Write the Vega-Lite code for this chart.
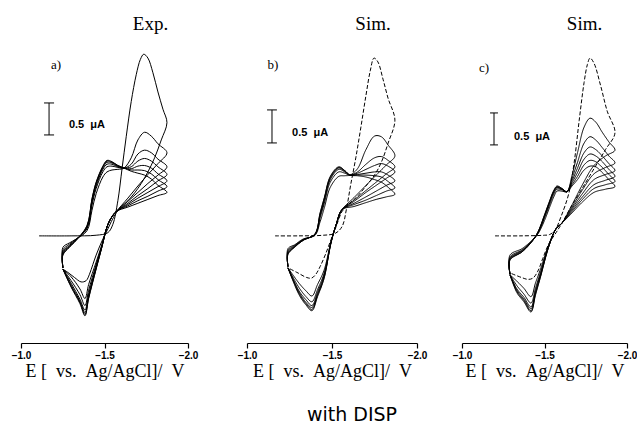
{
"$schema": "https://vega.github.io/schema/vega-lite/v6.json",
"background": "white",
"padding": {"left": 11, "top": 15, "right": 0, "bottom": 0},
"title": {"text": "with\u00a0DISP", "orient": "bottom", "anchor": "middle", "font": "DejaVu Sans", "fontSize": 19, "fontWeight": "normal", "color": "#000", "offset": 26, "dx": 28},
"config": {
 "view": {"stroke": null},
 "title": {"font": "Liberation Serif", "fontSize": 19, "fontWeight": "normal", "color": "#000", "anchor": "middle", "offset": 2},
 "axisX": {"tickCount": 2, "format": ".1f", "labelFlush": false, "tickSize": 5, "tickWidth": 1.2, "domainWidth": 1.2, "domainColor": "#000", "tickColor": "#000", "labelColor": "#000", "labelFont": "Liberation Sans", "labelFontSize": 10, "labelFontWeight": "bold", "labelPadding": 2, "titleFont": "Liberation Serif", "titleFontSize": 18, "titleFontWeight": "normal", "titleColor": "#000", "titlePadding": 2, "grid": false}
},
"datasets": {
"a": [
{"c":1,"E":-1.108,"i":0},{"c":1,"E":-1.3,"i":0},{"c":1,"E":-1.45,"i":0.01},{"c":1,"E":-1.52,"i":0.05},{"c":1,"E":-1.55,"i":0.18},{"c":1,"E":-1.58,"i":0.55},{"c":1,"E":-1.605,"i":1.05},{"c":1,"E":-1.63,"i":1.55},{"c":1,"E":-1.66,"i":2.1},{"c":1,"E":-1.69,"i":2.52},{"c":1,"E":-1.715,"i":2.76},{"c":1,"E":-1.735,"i":2.84},{"c":1,"E":-1.76,"i":2.78},{"c":1,"E":-1.79,"i":2.55},{"c":1,"E":-1.82,"i":2.25},{"c":1,"E":-1.85,"i":1.98},{"c":1,"E":-1.874,"i":1.77},
{"c":1,"E":-1.84,"i":1.5},{"c":1,"E":-1.8,"i":1.22},{"c":1,"E":-1.76,"i":1.0},{"c":1,"E":-1.72,"i":0.82},{"c":1,"E":-1.68,"i":0.67},{"c":1,"E":-1.64,"i":0.55},{"c":1,"E":-1.6,"i":0.45},{"c":1,"E":-1.57,"i":0.36},{"c":1,"E":-1.54,"i":0.22},{"c":1,"E":-1.515,"i":0.08},{"c":1,"E":-1.485,"i":-0.08},{"c":1,"E":-1.45,"i":-0.3},{"c":1,"E":-1.43,"i":-0.45},{"c":1,"E":-1.41,"i":-0.6},{"c":1,"E":-1.39,"i":-0.7},{"c":1,"E":-1.36,"i":-0.72},{"c":1,"E":-1.32,"i":-0.65},{"c":1,"E":-1.28,"i":-0.57},{"c":1,"E":-1.251,"i":-0.52},
{"c":2,"E":-1.251,"i":-0.5},{"c":2,"E":-1.251,"i":-0.18},{"c":2,"E":-1.29,"i":-0.11},{"c":2,"E":-1.33,"i":-0.05},{"c":2,"E":-1.395,"i":0.08},{"c":2,"E":-1.425,"i":0.4},{"c":2,"E":-1.45,"i":0.66},{"c":2,"E":-1.49,"i":0.92},{"c":2,"E":-1.515,"i":1.0},{"c":2,"E":-1.545,"i":1.03},{"c":2,"E":-1.58,"i":1.04},{"c":2,"E":-1.617,"i":1.06},{"c":2,"E":-1.66,"i":1.22},{"c":2,"E":-1.7,"i":1.5},{"c":2,"E":-1.74,"i":1.62},{"c":2,"E":-1.78,"i":1.56},{"c":2,"E":-1.82,"i":1.44},{"c":2,"E":-1.874,"i":1.3},
{"c":2,"E":-1.82,"i":1.13},{"c":2,"E":-1.76,"i":0.96},{"c":2,"E":-1.7,"i":0.78},{"c":2,"E":-1.64,"i":0.59},{"c":2,"E":-1.57,"i":0.38},{"c":2,"E":-1.54,"i":0.28},{"c":2,"E":-1.515,"i":0.14},{"c":2,"E":-1.485,"i":-0.13},{"c":2,"E":-1.45,"i":-0.41},{"c":2,"E":-1.405,"i":-0.76},{"c":2,"E":-1.383,"i":-0.98},{"c":2,"E":-1.353,"i":-0.83},{"c":2,"E":-1.3,"i":-0.64},{"c":2,"E":-1.251,"i":-0.52},
{"c":3,"E":-1.251,"i":-0.5},{"c":3,"E":-1.251,"i":-0.22},{"c":3,"E":-1.29,"i":-0.13},{"c":3,"E":-1.33,"i":-0.05},{"c":3,"E":-1.395,"i":0.11},{"c":3,"E":-1.425,"i":0.48},{"c":3,"E":-1.45,"i":0.74},{"c":3,"E":-1.49,"i":1.0},{"c":3,"E":-1.515,"i":1.08},{"c":3,"E":-1.545,"i":1.09},{"c":3,"E":-1.58,"i":1.07},{"c":3,"E":-1.617,"i":1.06},{"c":3,"E":-1.66,"i":1.12},{"c":3,"E":-1.7,"i":1.28},{"c":3,"E":-1.74,"i":1.34},{"c":3,"E":-1.78,"i":1.3},{"c":3,"E":-1.82,"i":1.2},{"c":3,"E":-1.874,"i":1.08},
{"c":3,"E":-1.82,"i":0.95},{"c":3,"E":-1.76,"i":0.82},{"c":3,"E":-1.7,"i":0.68},{"c":3,"E":-1.64,"i":0.54},{"c":3,"E":-1.57,"i":0.38},{"c":3,"E":-1.54,"i":0.28},{"c":3,"E":-1.515,"i":0.14},{"c":3,"E":-1.485,"i":-0.15},{"c":3,"E":-1.45,"i":-0.45},{"c":3,"E":-1.405,"i":-0.85},{"c":3,"E":-1.383,"i":-1.09},{"c":3,"E":-1.353,"i":-0.92},{"c":3,"E":-1.3,"i":-0.7},{"c":3,"E":-1.251,"i":-0.52},
{"c":4,"E":-1.251,"i":-0.5},{"c":4,"E":-1.251,"i":-0.25},{"c":4,"E":-1.29,"i":-0.15},{"c":4,"E":-1.33,"i":-0.06},{"c":4,"E":-1.395,"i":0.13},{"c":4,"E":-1.425,"i":0.52},{"c":4,"E":-1.45,"i":0.78},{"c":4,"E":-1.49,"i":1.04},{"c":4,"E":-1.515,"i":1.12},{"c":4,"E":-1.545,"i":1.12},{"c":4,"E":-1.58,"i":1.08},{"c":4,"E":-1.617,"i":1.06},{"c":4,"E":-1.66,"i":1.08},{"c":4,"E":-1.7,"i":1.17},{"c":4,"E":-1.74,"i":1.21},{"c":4,"E":-1.78,"i":1.17},{"c":4,"E":-1.82,"i":1.08},{"c":4,"E":-1.874,"i":0.96},
{"c":4,"E":-1.82,"i":0.86},{"c":4,"E":-1.76,"i":0.74},{"c":4,"E":-1.7,"i":0.63},{"c":4,"E":-1.64,"i":0.51},{"c":4,"E":-1.57,"i":0.38},{"c":4,"E":-1.54,"i":0.28},{"c":4,"E":-1.515,"i":0.14},{"c":4,"E":-1.485,"i":-0.16},{"c":4,"E":-1.45,"i":-0.48},{"c":4,"E":-1.405,"i":-0.91},{"c":4,"E":-1.383,"i":-1.16},{"c":4,"E":-1.353,"i":-0.99},{"c":4,"E":-1.3,"i":-0.74},{"c":4,"E":-1.251,"i":-0.52},
{"c":5,"E":-1.251,"i":-0.5},{"c":5,"E":-1.251,"i":-0.27},{"c":5,"E":-1.29,"i":-0.16},{"c":5,"E":-1.33,"i":-0.06},{"c":5,"E":-1.395,"i":0.14},{"c":5,"E":-1.425,"i":0.55},{"c":5,"E":-1.45,"i":0.81},{"c":5,"E":-1.49,"i":1.06},{"c":5,"E":-1.515,"i":1.15},{"c":5,"E":-1.545,"i":1.14},{"c":5,"E":-1.58,"i":1.09},{"c":5,"E":-1.617,"i":1.06},{"c":5,"E":-1.66,"i":1.05},{"c":5,"E":-1.7,"i":1.09},{"c":5,"E":-1.74,"i":1.1},{"c":5,"E":-1.78,"i":1.06},{"c":5,"E":-1.82,"i":0.97},{"c":5,"E":-1.874,"i":0.86},
{"c":5,"E":-1.82,"i":0.77},{"c":5,"E":-1.76,"i":0.68},{"c":5,"E":-1.7,"i":0.59},{"c":5,"E":-1.64,"i":0.49},{"c":5,"E":-1.57,"i":0.38},{"c":5,"E":-1.54,"i":0.28},{"c":5,"E":-1.515,"i":0.14},{"c":5,"E":-1.485,"i":-0.16},{"c":5,"E":-1.45,"i":-0.5},{"c":5,"E":-1.405,"i":-0.94},{"c":5,"E":-1.383,"i":-1.2},{"c":5,"E":-1.353,"i":-1.02},{"c":5,"E":-1.3,"i":-0.77},{"c":5,"E":-1.251,"i":-0.52},
{"c":6,"E":-1.251,"i":-0.5},{"c":6,"E":-1.251,"i":-0.29},{"c":6,"E":-1.29,"i":-0.17},{"c":6,"E":-1.33,"i":-0.07},{"c":6,"E":-1.395,"i":0.15},{"c":6,"E":-1.425,"i":0.57},{"c":6,"E":-1.45,"i":0.83},{"c":6,"E":-1.49,"i":1.08},{"c":6,"E":-1.515,"i":1.17},{"c":6,"E":-1.545,"i":1.15},{"c":6,"E":-1.58,"i":1.1},{"c":6,"E":-1.617,"i":1.06},{"c":6,"E":-1.66,"i":1.03},{"c":6,"E":-1.7,"i":1.03},{"c":6,"E":-1.74,"i":1.02},{"c":6,"E":-1.78,"i":0.97},{"c":6,"E":-1.82,"i":0.88},{"c":6,"E":-1.874,"i":0.77},
{"c":6,"E":-1.82,"i":0.7},{"c":6,"E":-1.76,"i":0.62},{"c":6,"E":-1.7,"i":0.55},{"c":6,"E":-1.64,"i":0.47},{"c":6,"E":-1.57,"i":0.38},{"c":6,"E":-1.54,"i":0.28},{"c":6,"E":-1.515,"i":0.14},{"c":6,"E":-1.485,"i":-0.17},{"c":6,"E":-1.45,"i":-0.51},{"c":6,"E":-1.405,"i":-0.97},{"c":6,"E":-1.383,"i":-1.23},{"c":6,"E":-1.353,"i":-1.04},{"c":6,"E":-1.3,"i":-0.79},{"c":6,"E":-1.251,"i":-0.52},
{"c":7,"E":-1.251,"i":-0.5},{"c":7,"E":-1.251,"i":-0.3},{"c":7,"E":-1.29,"i":-0.18},{"c":7,"E":-1.33,"i":-0.07},{"c":7,"E":-1.395,"i":0.16},{"c":7,"E":-1.425,"i":0.58},{"c":7,"E":-1.45,"i":0.84},{"c":7,"E":-1.49,"i":1.09},{"c":7,"E":-1.515,"i":1.18},{"c":7,"E":-1.545,"i":1.16},{"c":7,"E":-1.58,"i":1.1},{"c":7,"E":-1.617,"i":1.06},{"c":7,"E":-1.66,"i":1.01},{"c":7,"E":-1.7,"i":0.98},{"c":7,"E":-1.74,"i":0.95},{"c":7,"E":-1.78,"i":0.89},{"c":7,"E":-1.82,"i":0.79},{"c":7,"E":-1.874,"i":0.68},
{"c":7,"E":-1.82,"i":0.63},{"c":7,"E":-1.76,"i":0.57},{"c":7,"E":-1.7,"i":0.51},{"c":7,"E":-1.64,"i":0.45},{"c":7,"E":-1.57,"i":0.38},{"c":7,"E":-1.54,"i":0.28},{"c":7,"E":-1.515,"i":0.14},{"c":7,"E":-1.485,"i":-0.17},{"c":7,"E":-1.45,"i":-0.52},{"c":7,"E":-1.405,"i":-0.98},{"c":7,"E":-1.383,"i":-1.25},{"c":7,"E":-1.353,"i":-1.06},{"c":7,"E":-1.3,"i":-0.8},{"c":7,"E":-1.251,"i":-0.52}
],
"b": [
{"c":1,"E":-1.165,"i":0},{"c":1,"E":-1.3,"i":0},{"c":1,"E":-1.45,"i":0.01},{"c":1,"E":-1.52,"i":0.04},{"c":1,"E":-1.56,"i":0.15},{"c":1,"E":-1.585,"i":0.42},{"c":1,"E":-1.61,"i":0.8},{"c":1,"E":-1.64,"i":1.22},{"c":1,"E":-1.67,"i":1.7},{"c":1,"E":-1.7,"i":2.2},{"c":1,"E":-1.725,"i":2.58},{"c":1,"E":-1.747,"i":2.78},{"c":1,"E":-1.77,"i":2.72},{"c":1,"E":-1.8,"i":2.45},{"c":1,"E":-1.83,"i":2.15},{"c":1,"E":-1.87,"i":1.81},
{"c":1,"E":-1.83,"i":1.45},{"c":1,"E":-1.79,"i":1.15},{"c":1,"E":-1.75,"i":0.95},{"c":1,"E":-1.7,"i":0.78},{"c":1,"E":-1.65,"i":0.62},{"c":1,"E":-1.6,"i":0.5},{"c":1,"E":-1.559,"i":0.38},{"c":1,"E":-1.525,"i":0.15},{"c":1,"E":-1.494,"i":-0.06},{"c":1,"E":-1.46,"i":-0.3},{"c":1,"E":-1.43,"i":-0.48},{"c":1,"E":-1.405,"i":-0.6},{"c":1,"E":-1.38,"i":-0.66},{"c":1,"E":-1.35,"i":-0.65},{"c":1,"E":-1.3,"i":-0.58},{"c":1,"E":-1.241,"i":-0.5},
{"c":2,"E":-1.241,"i":-0.48},{"c":2,"E":-1.241,"i":-0.2},{"c":2,"E":-1.28,"i":-0.14},{"c":2,"E":-1.33,"i":-0.05},{"c":2,"E":-1.4,"i":0.01},{"c":2,"E":-1.43,"i":0.22},{"c":2,"E":-1.455,"i":0.44},{"c":2,"E":-1.49,"i":0.76},{"c":2,"E":-1.54,"i":0.93},{"c":2,"E":-1.575,"i":0.94},{"c":2,"E":-1.606,"i":0.95},{"c":2,"E":-1.65,"i":1.05},{"c":2,"E":-1.7,"i":1.35},{"c":2,"E":-1.75,"i":1.56},{"c":2,"E":-1.79,"i":1.55},{"c":2,"E":-1.83,"i":1.42},{"c":2,"E":-1.87,"i":1.25},
{"c":2,"E":-1.82,"i":1.11},{"c":2,"E":-1.76,"i":0.95},{"c":2,"E":-1.7,"i":0.79},{"c":2,"E":-1.63,"i":0.6},{"c":2,"E":-1.559,"i":0.41},{"c":2,"E":-1.525,"i":0.18},{"c":2,"E":-1.494,"i":-0.09},{"c":2,"E":-1.453,"i":-0.54},{"c":2,"E":-1.415,"i":-0.76},{"c":2,"E":-1.382,"i":-0.94},{"c":2,"E":-1.347,"i":-0.86},{"c":2,"E":-1.306,"i":-0.74},{"c":2,"E":-1.241,"i":-0.5},
{"c":3,"E":-1.241,"i":-0.48},{"c":3,"E":-1.241,"i":-0.23},{"c":3,"E":-1.28,"i":-0.15},{"c":3,"E":-1.33,"i":-0.06},{"c":3,"E":-1.4,"i":0.02},{"c":3,"E":-1.43,"i":0.28},{"c":3,"E":-1.455,"i":0.51},{"c":3,"E":-1.49,"i":0.84},{"c":3,"E":-1.54,"i":1.0},{"c":3,"E":-1.575,"i":0.98},{"c":3,"E":-1.606,"i":0.95},{"c":3,"E":-1.65,"i":1.0},{"c":3,"E":-1.7,"i":1.12},{"c":3,"E":-1.75,"i":1.22},{"c":3,"E":-1.79,"i":1.24},{"c":3,"E":-1.83,"i":1.18},{"c":3,"E":-1.87,"i":1.08},
{"c":3,"E":-1.82,"i":0.97},{"c":3,"E":-1.76,"i":0.84},{"c":3,"E":-1.7,"i":0.71},{"c":3,"E":-1.63,"i":0.56},{"c":3,"E":-1.559,"i":0.41},{"c":3,"E":-1.525,"i":0.18},{"c":3,"E":-1.494,"i":-0.1},{"c":3,"E":-1.453,"i":-0.59},{"c":3,"E":-1.415,"i":-0.84},{"c":3,"E":-1.382,"i":-1.03},{"c":3,"E":-1.347,"i":-0.95},{"c":3,"E":-1.306,"i":-0.81},{"c":3,"E":-1.241,"i":-0.5},
{"c":4,"E":-1.241,"i":-0.48},{"c":4,"E":-1.241,"i":-0.25},{"c":4,"E":-1.28,"i":-0.16},{"c":4,"E":-1.33,"i":-0.06},{"c":4,"E":-1.4,"i":0.02},{"c":4,"E":-1.43,"i":0.31},{"c":4,"E":-1.455,"i":0.55},{"c":4,"E":-1.49,"i":0.88},{"c":4,"E":-1.54,"i":1.04},{"c":4,"E":-1.575,"i":1.0},{"c":4,"E":-1.606,"i":0.95},{"c":4,"E":-1.65,"i":0.98},{"c":4,"E":-1.7,"i":1.04},{"c":4,"E":-1.75,"i":1.1},{"c":4,"E":-1.79,"i":1.13},{"c":4,"E":-1.83,"i":1.09},{"c":4,"E":-1.87,"i":1.0},
{"c":4,"E":-1.82,"i":0.9},{"c":4,"E":-1.76,"i":0.79},{"c":4,"E":-1.7,"i":0.68},{"c":4,"E":-1.63,"i":0.54},{"c":4,"E":-1.559,"i":0.41},{"c":4,"E":-1.525,"i":0.18},{"c":4,"E":-1.494,"i":-0.1},{"c":4,"E":-1.453,"i":-0.62},{"c":4,"E":-1.415,"i":-0.88},{"c":4,"E":-1.382,"i":-1.09},{"c":4,"E":-1.347,"i":-1.0},{"c":4,"E":-1.306,"i":-0.86},{"c":4,"E":-1.241,"i":-0.5},
{"c":5,"E":-1.241,"i":-0.48},{"c":5,"E":-1.241,"i":-0.27},{"c":5,"E":-1.28,"i":-0.17},{"c":5,"E":-1.33,"i":-0.07},{"c":5,"E":-1.4,"i":0.03},{"c":5,"E":-1.43,"i":0.33},{"c":5,"E":-1.455,"i":0.57},{"c":5,"E":-1.49,"i":0.9},{"c":5,"E":-1.54,"i":1.06},{"c":5,"E":-1.575,"i":1.01},{"c":5,"E":-1.606,"i":0.95},{"c":5,"E":-1.65,"i":0.96},{"c":5,"E":-1.7,"i":0.98},{"c":5,"E":-1.75,"i":1.0},{"c":5,"E":-1.79,"i":1.0},{"c":5,"E":-1.83,"i":0.95},{"c":5,"E":-1.87,"i":0.86},
{"c":5,"E":-1.82,"i":0.79},{"c":5,"E":-1.76,"i":0.7},{"c":5,"E":-1.7,"i":0.61},{"c":5,"E":-1.63,"i":0.51},{"c":5,"E":-1.559,"i":0.41},{"c":5,"E":-1.525,"i":0.18},{"c":5,"E":-1.494,"i":-0.11},{"c":5,"E":-1.453,"i":-0.64},{"c":5,"E":-1.415,"i":-0.91},{"c":5,"E":-1.382,"i":-1.12},{"c":5,"E":-1.347,"i":-1.04},{"c":5,"E":-1.306,"i":-0.88},{"c":5,"E":-1.241,"i":-0.5},
{"c":6,"E":-1.241,"i":-0.48},{"c":6,"E":-1.241,"i":-0.28},{"c":6,"E":-1.28,"i":-0.17},{"c":6,"E":-1.33,"i":-0.07},{"c":6,"E":-1.4,"i":0.03},{"c":6,"E":-1.43,"i":0.35},{"c":6,"E":-1.455,"i":0.59},{"c":6,"E":-1.49,"i":0.92},{"c":6,"E":-1.54,"i":1.07},{"c":6,"E":-1.575,"i":1.02},{"c":6,"E":-1.606,"i":0.95},{"c":6,"E":-1.65,"i":0.95},{"c":6,"E":-1.7,"i":0.95},{"c":6,"E":-1.75,"i":0.94},{"c":6,"E":-1.79,"i":0.92},{"c":6,"E":-1.83,"i":0.85},{"c":6,"E":-1.87,"i":0.75},
{"c":6,"E":-1.82,"i":0.7},{"c":6,"E":-1.76,"i":0.63},{"c":6,"E":-1.7,"i":0.56},{"c":6,"E":-1.63,"i":0.49},{"c":6,"E":-1.559,"i":0.41},{"c":6,"E":-1.525,"i":0.18},{"c":6,"E":-1.494,"i":-0.11},{"c":6,"E":-1.453,"i":-0.66},{"c":6,"E":-1.415,"i":-0.93},{"c":6,"E":-1.382,"i":-1.15},{"c":6,"E":-1.347,"i":-1.06},{"c":6,"E":-1.306,"i":-0.9},{"c":6,"E":-1.241,"i":-0.5},
{"c":7,"E":-1.241,"i":-0.48},{"c":7,"E":-1.241,"i":-0.29},{"c":7,"E":-1.28,"i":-0.18},{"c":7,"E":-1.33,"i":-0.07},{"c":7,"E":-1.4,"i":0.03},{"c":7,"E":-1.43,"i":0.36},{"c":7,"E":-1.455,"i":0.6},{"c":7,"E":-1.49,"i":0.93},{"c":7,"E":-1.54,"i":1.08},{"c":7,"E":-1.575,"i":1.02},{"c":7,"E":-1.606,"i":0.95},{"c":7,"E":-1.65,"i":0.94},{"c":7,"E":-1.7,"i":0.92},{"c":7,"E":-1.75,"i":0.88},{"c":7,"E":-1.79,"i":0.84},{"c":7,"E":-1.83,"i":0.76},{"c":7,"E":-1.87,"i":0.65},
{"c":7,"E":-1.82,"i":0.61},{"c":7,"E":-1.76,"i":0.57},{"c":7,"E":-1.7,"i":0.52},{"c":7,"E":-1.63,"i":0.46},{"c":7,"E":-1.559,"i":0.41},{"c":7,"E":-1.525,"i":0.18},{"c":7,"E":-1.494,"i":-0.11},{"c":7,"E":-1.453,"i":-0.67},{"c":7,"E":-1.415,"i":-0.95},{"c":7,"E":-1.382,"i":-1.17},{"c":7,"E":-1.347,"i":-1.08},{"c":7,"E":-1.306,"i":-0.92},{"c":7,"E":-1.241,"i":-0.5}
],
"c": [
{"c":1,"E":-1.2,"i":0},{"c":1,"E":-1.35,"i":0},{"c":1,"E":-1.5,"i":0.01},{"c":1,"E":-1.53,"i":0.02},{"c":1,"E":-1.564,"i":0.09},{"c":1,"E":-1.6,"i":0.3},{"c":1,"E":-1.648,"i":0.67},{"c":1,"E":-1.68,"i":1.15},{"c":1,"E":-1.71,"i":1.8},{"c":1,"E":-1.74,"i":2.4},{"c":1,"E":-1.76,"i":2.68},{"c":1,"E":-1.776,"i":2.78},{"c":1,"E":-1.8,"i":2.7},{"c":1,"E":-1.84,"i":2.35},{"c":1,"E":-1.88,"i":1.95},{"c":1,"E":-1.927,"i":1.61},
{"c":1,"E":-1.87,"i":1.35},{"c":1,"E":-1.8,"i":1.05},{"c":1,"E":-1.73,"i":0.75},{"c":1,"E":-1.66,"i":0.45},{"c":1,"E":-1.606,"i":0.2},{"c":1,"E":-1.57,"i":0.05},{"c":1,"E":-1.527,"i":-0.12},{"c":1,"E":-1.49,"i":-0.35},{"c":1,"E":-1.46,"i":-0.55},{"c":1,"E":-1.43,"i":-0.66},{"c":1,"E":-1.4,"i":-0.68},{"c":1,"E":-1.36,"i":-0.65},{"c":1,"E":-1.291,"i":-0.58},
{"c":2,"E":-1.291,"i":-0.6},{"c":2,"E":-1.291,"i":-0.3},{"c":2,"E":-1.364,"i":-0.2},{"c":2,"E":-1.42,"i":-0.08},{"c":2,"E":-1.46,"i":0.03},{"c":2,"E":-1.5,"i":0.24},{"c":2,"E":-1.527,"i":0.42},{"c":2,"E":-1.558,"i":0.62},{"c":2,"E":-1.576,"i":0.7},{"c":2,"E":-1.606,"i":0.7},{"c":2,"E":-1.636,"i":0.69},{"c":2,"E":-1.667,"i":0.95},{"c":2,"E":-1.7,"i":1.3},{"c":2,"E":-1.74,"i":1.7},{"c":2,"E":-1.776,"i":1.84},{"c":2,"E":-1.81,"i":1.78},{"c":2,"E":-1.85,"i":1.62},{"c":2,"E":-1.89,"i":1.47},{"c":2,"E":-1.927,"i":1.34},
{"c":2,"E":-1.87,"i":1.25},{"c":2,"E":-1.8,"i":1.1},{"c":2,"E":-1.73,"i":0.8},{"c":2,"E":-1.66,"i":0.45},{"c":2,"E":-1.606,"i":0.2},{"c":2,"E":-1.57,"i":0.11},{"c":2,"E":-1.527,"i":-0.13},{"c":2,"E":-1.473,"i":-0.54},{"c":2,"E":-1.445,"i":-0.74},{"c":2,"E":-1.418,"i":-0.95},{"c":2,"E":-1.375,"i":-0.82},{"c":2,"E":-1.333,"i":-0.71},{"c":2,"E":-1.291,"i":-0.61},
{"c":3,"E":-1.291,"i":-0.6},{"c":3,"E":-1.291,"i":-0.33},{"c":3,"E":-1.364,"i":-0.22},{"c":3,"E":-1.42,"i":-0.09},{"c":3,"E":-1.46,"i":0.04},{"c":3,"E":-1.5,"i":0.28},{"c":3,"E":-1.527,"i":0.46},{"c":3,"E":-1.558,"i":0.66},{"c":3,"E":-1.576,"i":0.73},{"c":3,"E":-1.606,"i":0.72},{"c":3,"E":-1.636,"i":0.69},{"c":3,"E":-1.667,"i":0.9},{"c":3,"E":-1.7,"i":1.15},{"c":3,"E":-1.74,"i":1.45},{"c":3,"E":-1.776,"i":1.55},{"c":3,"E":-1.81,"i":1.5},{"c":3,"E":-1.85,"i":1.38},{"c":3,"E":-1.89,"i":1.25},{"c":3,"E":-1.927,"i":1.14},
{"c":3,"E":-1.87,"i":1.07},{"c":3,"E":-1.8,"i":0.97},{"c":3,"E":-1.73,"i":0.72},{"c":3,"E":-1.66,"i":0.42},{"c":3,"E":-1.606,"i":0.2},{"c":3,"E":-1.57,"i":0.11},{"c":3,"E":-1.527,"i":-0.14},{"c":3,"E":-1.473,"i":-0.59},{"c":3,"E":-1.445,"i":-0.82},{"c":3,"E":-1.418,"i":-1.05},{"c":3,"E":-1.375,"i":-0.91},{"c":3,"E":-1.333,"i":-0.78},{"c":3,"E":-1.291,"i":-0.61},
{"c":4,"E":-1.291,"i":-0.6},{"c":4,"E":-1.291,"i":-0.35},{"c":4,"E":-1.364,"i":-0.23},{"c":4,"E":-1.42,"i":-0.09},{"c":4,"E":-1.46,"i":0.05},{"c":4,"E":-1.5,"i":0.3},{"c":4,"E":-1.527,"i":0.49},{"c":4,"E":-1.558,"i":0.69},{"c":4,"E":-1.576,"i":0.75},{"c":4,"E":-1.606,"i":0.73},{"c":4,"E":-1.636,"i":0.69},{"c":4,"E":-1.667,"i":0.86},{"c":4,"E":-1.7,"i":1.06},{"c":4,"E":-1.74,"i":1.3},{"c":4,"E":-1.776,"i":1.39},{"c":4,"E":-1.81,"i":1.35},{"c":4,"E":-1.85,"i":1.25},{"c":4,"E":-1.89,"i":1.13},{"c":4,"E":-1.927,"i":1.02},
{"c":4,"E":-1.87,"i":0.96},{"c":4,"E":-1.8,"i":0.88},{"c":4,"E":-1.73,"i":0.66},{"c":4,"E":-1.66,"i":0.4},{"c":4,"E":-1.606,"i":0.2},{"c":4,"E":-1.57,"i":0.11},{"c":4,"E":-1.527,"i":-0.15},{"c":4,"E":-1.473,"i":-0.62},{"c":4,"E":-1.445,"i":-0.86},{"c":4,"E":-1.418,"i":-1.11},{"c":4,"E":-1.375,"i":-0.96},{"c":4,"E":-1.333,"i":-0.83},{"c":4,"E":-1.291,"i":-0.61},
{"c":5,"E":-1.291,"i":-0.6},{"c":5,"E":-1.291,"i":-0.36},{"c":5,"E":-1.364,"i":-0.24},{"c":5,"E":-1.42,"i":-0.1},{"c":5,"E":-1.46,"i":0.05},{"c":5,"E":-1.5,"i":0.31},{"c":5,"E":-1.527,"i":0.5},{"c":5,"E":-1.558,"i":0.7},{"c":5,"E":-1.576,"i":0.76},{"c":5,"E":-1.606,"i":0.73},{"c":5,"E":-1.636,"i":0.69},{"c":5,"E":-1.667,"i":0.83},{"c":5,"E":-1.7,"i":0.99},{"c":5,"E":-1.74,"i":1.2},{"c":5,"E":-1.776,"i":1.28},{"c":5,"E":-1.81,"i":1.25},{"c":5,"E":-1.85,"i":1.16},{"c":5,"E":-1.89,"i":1.04},{"c":5,"E":-1.927,"i":0.93},
{"c":5,"E":-1.87,"i":0.87},{"c":5,"E":-1.8,"i":0.8},{"c":5,"E":-1.73,"i":0.61},{"c":5,"E":-1.66,"i":0.38},{"c":5,"E":-1.606,"i":0.2},{"c":5,"E":-1.57,"i":0.11},{"c":5,"E":-1.527,"i":-0.15},{"c":5,"E":-1.473,"i":-0.64},{"c":5,"E":-1.445,"i":-0.89},{"c":5,"E":-1.418,"i":-1.14},{"c":5,"E":-1.375,"i":-0.99},{"c":5,"E":-1.333,"i":-0.85},{"c":5,"E":-1.291,"i":-0.61},
{"c":6,"E":-1.291,"i":-0.6},{"c":6,"E":-1.291,"i":-0.37},{"c":6,"E":-1.364,"i":-0.25},{"c":6,"E":-1.42,"i":-0.1},{"c":6,"E":-1.46,"i":0.06},{"c":6,"E":-1.5,"i":0.32},{"c":6,"E":-1.527,"i":0.51},{"c":6,"E":-1.558,"i":0.71},{"c":6,"E":-1.576,"i":0.77},{"c":6,"E":-1.606,"i":0.74},{"c":6,"E":-1.636,"i":0.69},{"c":6,"E":-1.667,"i":0.8},{"c":6,"E":-1.7,"i":0.93},{"c":6,"E":-1.74,"i":1.11},{"c":6,"E":-1.776,"i":1.18},{"c":6,"E":-1.81,"i":1.16},{"c":6,"E":-1.85,"i":1.07},{"c":6,"E":-1.89,"i":0.96},{"c":6,"E":-1.927,"i":0.85},
{"c":6,"E":-1.87,"i":0.8},{"c":6,"E":-1.8,"i":0.74},{"c":6,"E":-1.73,"i":0.57},{"c":6,"E":-1.66,"i":0.36},{"c":6,"E":-1.606,"i":0.2},{"c":6,"E":-1.57,"i":0.11},{"c":6,"E":-1.527,"i":-0.16},{"c":6,"E":-1.473,"i":-0.66},{"c":6,"E":-1.445,"i":-0.91},{"c":6,"E":-1.418,"i":-1.17},{"c":6,"E":-1.375,"i":-1.01},{"c":6,"E":-1.333,"i":-0.87},{"c":6,"E":-1.291,"i":-0.61},
{"c":7,"E":-1.291,"i":-0.6},{"c":7,"E":-1.291,"i":-0.38},{"c":7,"E":-1.364,"i":-0.25},{"c":7,"E":-1.42,"i":-0.1},{"c":7,"E":-1.46,"i":0.06},{"c":7,"E":-1.5,"i":0.33},{"c":7,"E":-1.527,"i":0.52},{"c":7,"E":-1.558,"i":0.72},{"c":7,"E":-1.576,"i":0.78},{"c":7,"E":-1.606,"i":0.74},{"c":7,"E":-1.636,"i":0.69},{"c":7,"E":-1.667,"i":0.78},{"c":7,"E":-1.7,"i":0.88},{"c":7,"E":-1.74,"i":1.03},{"c":7,"E":-1.776,"i":1.09},{"c":7,"E":-1.81,"i":1.08},{"c":7,"E":-1.85,"i":0.99},{"c":7,"E":-1.89,"i":0.88},{"c":7,"E":-1.927,"i":0.77},
{"c":7,"E":-1.87,"i":0.73},{"c":7,"E":-1.8,"i":0.68},{"c":7,"E":-1.73,"i":0.53},{"c":7,"E":-1.66,"i":0.34},{"c":7,"E":-1.606,"i":0.2},{"c":7,"E":-1.57,"i":0.11},{"c":7,"E":-1.527,"i":-0.16},{"c":7,"E":-1.473,"i":-0.67},{"c":7,"E":-1.445,"i":-0.93},{"c":7,"E":-1.418,"i":-1.19},{"c":7,"E":-1.375,"i":-1.03},{"c":7,"E":-1.333,"i":-0.89},{"c":7,"E":-1.291,"i":-0.61}
]
},
"spacing": 59,
"bounds": "flush",
"hconcat": [
{
 "width": 167, "height": 307,
 "title": {"text": "Exp.", "dx": 46},
 "layer": [
  {"data": {"name": "a"}, "mark": {"type": "line", "interpolate": "catmull-rom", "strokeWidth": 1, "color": "#000"},
   "encoding": {"x": {"field": "E", "type": "quantitative", "scale": {"domain": [-2, -1], "reverse": true, "nice": false}, "title": "E\u00a0[\u00a0\u00a0vs.\u00a0\u00a0Ag/AgCl]/\u00a0\u00a0V"},
    "y": {"field": "i", "type": "quantitative", "scale": {"domain": [-1.675, 3.125], "nice": false}, "axis": null},
    "detail": {"field": "c", "type": "nominal"}, "order": {"value": null}}},
  {"data": {"values": [{"x1": -1.168, "x2": -1.168, "y1": 1.578, "y2": 2.078}, {"x1": -1.138, "x2": -1.198, "y1": 2.078, "y2": 2.078}, {"x1": -1.138, "x2": -1.198, "y1": 1.578, "y2": 1.578}]},
   "mark": {"type": "rule", "color": "#000", "strokeWidth": 1},
   "encoding": {"x": {"field": "x1", "type": "quantitative", "title": "E\u00a0[\u00a0\u00a0vs.\u00a0\u00a0Ag/AgCl]/\u00a0\u00a0V"}, "x2": {"field": "x2"}, "y": {"field": "y1", "type": "quantitative", "axis": null}, "y2": {"field": "y2"}}},
  {"data": {"values": [{"x": -1.21, "y": 2.672, "t": "a)"}]},
   "mark": {"type": "text", "font": "Liberation Serif", "fontSize": 13, "color": "#000"},
   "encoding": {"x": {"field": "x", "type": "quantitative", "title": "E\u00a0[\u00a0\u00a0vs.\u00a0\u00a0Ag/AgCl]/\u00a0\u00a0V"}, "y": {"field": "y", "type": "quantitative", "axis": null}, "text": {"field": "t"}}},
  {"data": {"values": [{"x": -1.287, "y": 1.734, "t": "0.5\u00a0\u00a0μA"}]},
   "mark": {"type": "text", "font": "Liberation Sans", "fontSize": 11, "fontWeight": "bold", "align": "left", "color": "#000"},
   "encoding": {"x": {"field": "x", "type": "quantitative", "title": "E\u00a0[\u00a0\u00a0vs.\u00a0\u00a0Ag/AgCl]/\u00a0\u00a0V"}, "y": {"field": "y", "type": "quantitative", "axis": null}, "text": {"field": "t"}}}
 ]
},
{
 "spacing": 45,
 "bounds": "flush",
 "hconcat": [
 {
  "width": 170, "height": 307,
  "title": {"text": "Sim.", "dx": 41},
  "layer": [
   {"data": {"name": "b"}, "mark": {"type": "line", "interpolate": "catmull-rom", "strokeWidth": 1, "color": "#000"},
    "encoding": {"x": {"field": "E", "type": "quantitative", "scale": {"domain": [-2, -1], "reverse": true, "nice": false}, "title": "E\u00a0[\u00a0\u00a0vs.\u00a0\u00a0Ag/AgCl]/\u00a0\u00a0V"},
     "y": {"field": "i", "type": "quantitative", "scale": {"domain": [-1.675, 3.125], "nice": false}, "axis": null},
     "detail": {"field": "c", "type": "nominal"}, "order": {"value": null},
     "strokeDash": {"condition": {"test": "datum.c === 1", "value": [4, 2]}, "value": [1, 0]}}},
   {"data": {"values": [{"x1": -1.147, "x2": -1.147, "y1": 1.453, "y2": 1.969}, {"x1": -1.118, "x2": -1.176, "y1": 1.969, "y2": 1.969}, {"x1": -1.118, "x2": -1.176, "y1": 1.453, "y2": 1.453}]},
    "mark": {"type": "rule", "color": "#000", "strokeWidth": 1},
    "encoding": {"x": {"field": "x1", "type": "quantitative", "title": "E\u00a0[\u00a0\u00a0vs.\u00a0\u00a0Ag/AgCl]/\u00a0\u00a0V"}, "x2": {"field": "x2"}, "y": {"field": "y1", "type": "quantitative", "axis": null}, "y2": {"field": "y2"}}},
   {"data": {"values": [{"x": -1.153, "y": 2.672, "t": "b)"}]},
    "mark": {"type": "text", "font": "Liberation Serif", "fontSize": 13, "color": "#000"},
    "encoding": {"x": {"field": "x", "type": "quantitative", "title": "E\u00a0[\u00a0\u00a0vs.\u00a0\u00a0Ag/AgCl]/\u00a0\u00a0V"}, "y": {"field": "y", "type": "quantitative", "axis": null}, "text": {"field": "t"}}},
   {"data": {"values": [{"x": -1.265, "y": 1.609, "t": "0.5\u00a0\u00a0μA"}]},
    "mark": {"type": "text", "font": "Liberation Sans", "fontSize": 11, "fontWeight": "bold", "align": "left", "color": "#000"},
    "encoding": {"x": {"field": "x", "type": "quantitative", "title": "E\u00a0[\u00a0\u00a0vs.\u00a0\u00a0Ag/AgCl]/\u00a0\u00a0V"}, "y": {"field": "y", "type": "quantitative", "axis": null}, "text": {"field": "t"}}}
  ]
 },
 {
  "width": 165, "height": 307,
  "title": {"text": "Sim.", "dx": 40},
  "layer": [
   {"data": {"name": "c"}, "mark": {"type": "line", "interpolate": "catmull-rom", "strokeWidth": 1, "color": "#000"},
    "encoding": {"x": {"field": "E", "type": "quantitative", "scale": {"domain": [-2, -1], "reverse": true, "nice": false}, "title": "E\u00a0[\u00a0\u00a0vs.\u00a0\u00a0Ag/AgCl]/\u00a0\u00a0V"},
     "y": {"field": "i", "type": "quantitative", "scale": {"domain": [-1.675, 3.125], "nice": false}, "axis": null},
     "detail": {"field": "c", "type": "nominal"}, "order": {"value": null},
     "strokeDash": {"condition": {"test": "datum.c === 1", "value": [4, 2]}, "value": [1, 0]}}},
   {"data": {"values": [{"x1": -1.194, "x2": -1.194, "y1": 1.422, "y2": 1.922}, {"x1": -1.17, "x2": -1.218, "y1": 1.922, "y2": 1.922}, {"x1": -1.17, "x2": -1.218, "y1": 1.422, "y2": 1.422}]},
    "mark": {"type": "rule", "color": "#000", "strokeWidth": 1},
    "encoding": {"x": {"field": "x1", "type": "quantitative", "title": "E\u00a0[\u00a0\u00a0vs.\u00a0\u00a0Ag/AgCl]/\u00a0\u00a0V"}, "x2": {"field": "x2"}, "y": {"field": "y1", "type": "quantitative", "axis": null}, "y2": {"field": "y2"}}},
   {"data": {"values": [{"x": -1.133, "y": 2.625, "t": "c)"}]},
    "mark": {"type": "text", "font": "Liberation Serif", "fontSize": 13, "color": "#000"},
    "encoding": {"x": {"field": "x", "type": "quantitative", "title": "E\u00a0[\u00a0\u00a0vs.\u00a0\u00a0Ag/AgCl]/\u00a0\u00a0V"}, "y": {"field": "y", "type": "quantitative", "axis": null}, "text": {"field": "t"}}},
   {"data": {"values": [{"x": -1.315, "y": 1.547, "t": "0.5\u00a0\u00a0μA"}]},
    "mark": {"type": "text", "font": "Liberation Sans", "fontSize": 11, "fontWeight": "bold", "align": "left", "color": "#000"},
    "encoding": {"x": {"field": "x", "type": "quantitative", "title": "E\u00a0[\u00a0\u00a0vs.\u00a0\u00a0Ag/AgCl]/\u00a0\u00a0V"}, "y": {"field": "y", "type": "quantitative", "axis": null}, "text": {"field": "t"}}}
  ]
 }
 ]
}
]
}
